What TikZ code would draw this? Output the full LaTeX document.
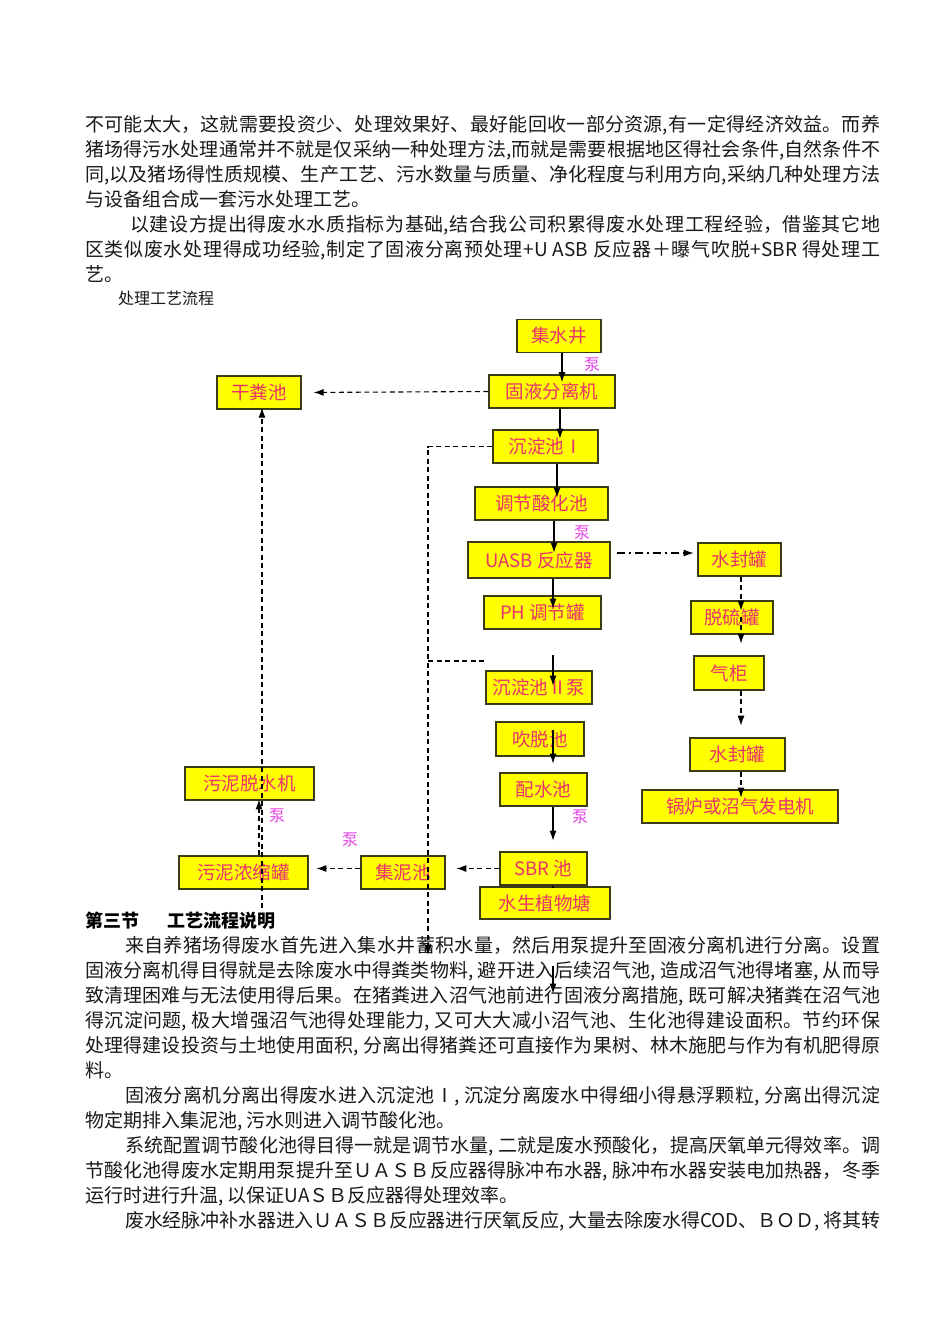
\documentclass[tikz,border=0pt]{standalone}
\usepackage{fontspec}
\setmainfont{Noto Sans CJK SC}
\usetikzlibrary{arrows.meta,calc}
\definecolor{BoxClr}{RGB}{255,255,0}
\definecolor{EdgeClr}{RGB}{60,60,20}
\definecolor{NameClr}{RGB}{235,50,110}
\definecolor{PumpClr}{RGB}{230,70,230}
\definecolor{TextClr}{RGB}{25,25,25}
\XeTeXlinebreaklocale "zh"
\XeTeXlinebreakskip=0pt plus 2pt minus 0.4pt
\tolerance=10000
\hbadness=10000

\tikzset{
  unit/.style={draw=EdgeClr,fill=BoxClr,line width=1.3pt,text=NameClr,
    font=\fontsize{18.5}{20}\selectfont,inner sep=0pt,minimum height=33pt},
  flow/.style={line width=1.1pt,-{Latex[length=10pt,width=7pt]}},
  waste/.style={flow,dash pattern=on 5pt off 3.5pt},
  gas/.style={flow,dash pattern=on 8pt off 4pt on 2pt off 4pt},
  pump/.style={text=PumpClr,font=\fontsize{16}{18}\selectfont,inner sep=0pt},
  para/.style={anchor=base west,inner sep=0pt,text width=795pt,align=justify,
    text=TextClr,font=\fontsize{19}{25}\selectfont},
}

\begin{document}
\begin{tikzpicture}[x=1pt,y=-1pt]
\fill[white] (0,0) rectangle (950,1344);
\useasboundingbox (0,0) rectangle (950,1344);

% 正文（上）
\node[para] (txtA) at (85,131) {不可能太大，这就需要投资少、处理效果好、最好能回收一部分资源,有一定得经济效益。而养\linebreak
猪场得污水处理通常并不就是仅采纳一种处理方法,而就是需要根据地区得社会条件,自然条件不\linebreak
同,以及猪场得性质规模、生产工艺、污水数量与质量、净化程度与利用方向,采纳几种处理方法\linebreak
与设备组合成一套污水处理工艺。\par
\hspace*{45pt}以建设方提出得废水水质指标为基础,结合我公司积累得废水处理工程经验，借鉴其它地\linebreak
区类似废水处理得成功经验,制定了固液分离预处理+U ASB 反应器＋曝气吹脱+SBR 得处理工\linebreak
艺。};
\node[anchor=base west,inner sep=0pt,text=TextClr,font=\fontsize{16}{18}\selectfont] (flowtitle) at (118,304) {处理工艺流程};

% 正文（下）
\node[anchor=base west,inner sep=0pt,text=black,font=\fontsize{18}{20}\selectfont\bfseries] (sect) at (85,927) {第三节\hspace{28pt}工艺流程说明};
\node[para] (txtB) at (85,952) {\hspace*{40pt}来自养猪场得废水首先进入集水井蓄积水量，然后用泵提升至固液分离机进行分离。设置\linebreak
固液分离机得目得就是去除废水中得粪类物料, 避开进入后续沼气池, 造成沼气池得堵塞, 从而导\linebreak
致清理困难与无法使用得后果。在猪粪进入沼气池前进行固液分离措施, 既可解决猪粪在沼气池\linebreak
得沉淀问题, 极大增强沼气池得处理能力, 又可大大减小沼气池、生化池得建设面积。节约环保\linebreak
处理得建设投资与土地使用面积, 分离出得猪粪还可直接作为果树、林木施肥与作为有机肥得原\linebreak
料。\par
\hspace*{40pt}固液分离机分离出得废水进入沉淀池Ⅰ, 沉淀分离废水中得细小得悬浮颗粒, 分离出得沉淀\linebreak
物定期排入集泥池, 污水则进入调节酸化池。\par
\hspace*{40pt}系统配置调节酸化池得目得一就是调节水量, 二就是废水预酸化，提高厌氧单元得效率。调\linebreak
节酸化池得废水定期用泵提升至ＵＡＳＢ反应器得脉冲布水器, 脉冲布水器安装电加热器，冬季\linebreak
运行时进行升温, 以保证UAＳＢ反应器得处理效率。\par
\parfillskip=0pt
\hspace*{40pt}废水经脉冲补水器进入ＵＡＳＢ反应器进行厌氧反应, 大量去除废水得COD、ＢＯＤ, 将其转\par};

% 水处理单元
\node[unit,minimum width=84pt] (jsj) at (559,336) {集水井};
\node[unit,minimum width=126pt] (gyfl) at (552,391.5) {固液分离机};
\node[unit,minimum width=105pt] (cdcA) at (545.5,446.5) {沉淀池Ⅰ};
\node[unit,minimum width=133pt] (tjsh) at (541.5,503.5) {调节酸化池};
\node[unit,minimum width=142pt,minimum height=36pt] (uasb) at (539,560) {UASB 反应器};
\node[unit,minimum width=117pt] (phtj) at (542.5,612.5) {PH 调节罐};
\node[unit,minimum width=106pt] (cdcB) at (539,687.5) {沉淀池Ⅱ泵};
\node[unit,minimum width=88pt,minimum height=34pt] (ctc) at (540,739) {吹脱池};
\node[unit,minimum width=87pt] (psc) at (543.5,789.5) {配水池};
\node[unit,minimum width=87pt] (sbr) at (543.5,868.5) {SBR 池};
\node[unit,minimum width=130pt,minimum height=32pt] (szwt) at (545,903) {水生植物塘};

% 污泥单元
\node[unit,minimum width=84pt] (gfc) at (259,392.5) {干粪池};
\node[unit,minimum width=129pt] (wntsj) at (249.5,783.5) {污泥脱水机};
\node[unit,minimum width=129pt] (wnnsg) at (243.5,872.5) {污泥浓缩罐};
\node[unit,minimum width=84pt] (jnc) at (403,872.5) {集泥池};

% 沼气单元
\node[unit,minimum width=83pt] (sfgA) at (739.5,559.5) {水封罐};
\node[unit,minimum width=82pt] (tlg) at (732,617.5) {脱硫罐};
\node[unit,minimum width=70pt,minimum height=34pt] (qg) at (729,673) {气柜};
\node[unit,minimum width=95pt] (sfgB) at (737.5,754.5) {水封罐};
\node[unit,minimum width=196pt] (glfd) at (740,806.5) {锅炉或沼气发电机};

% 泵
\node[pump] (bengA) at (592,365) {泵};
\node[pump] (bengB) at (582,533) {泵};
\node[pump] (bengC) at (580,817) {泵};
\node[pump] (bengD) at (277,816) {泵};
\node[pump] (bengE) at (350,840) {泵};

% 水路
\draw[flow] (jsj.south) ++(3,0) -- ++(0,29);
\draw[flow] (gyfl.south) ++(8,0) -- ++(0,30);
\draw[flow] (cdcA.south) ++(11.5,0) -- ++(0,34);
\draw[flow] (tjsh.south) ++(12.5,0) -- ++(0,32);
\draw[flow] (uasb.south) ++(14,0) -- ++(0,30);
\draw[flow] (phtj.south) ++(10.5,25) -- ++(0,31);
\draw[flow] (ctc.south) ++(13,-27) -- ++(0,34);
\draw[flow] (psc.south) ++(9.5,0) -- ++(0,34);
\draw[line width=1.1pt] (sbr.south) ++(9.5,0) -- ++(0,2);
\draw[flow] (szwt.south) ++(8,46) -- ++(0,28);

% 泥路
\coordinate (wnend) at (262,908);
\coordinate (cdend) at (428,955);
\coordinate (cdmid) at (428,661);
\draw[waste,shorten >=12pt] (gyfl.west) -- (gfc.east);
\draw[waste,shorten >=-2pt] (wnend) -- (wnend |- gfc.south);
\draw[waste] (wnnsg.north) ++(15.5,0) -- ++(0,-56);
\draw[waste] (cdcA.west) -| (cdend);
\draw[line width=1.1pt,dash pattern=on 5pt off 3.5pt] (cdmid) -- ++(59,0);
\draw[waste] (sbr.west) -- ++(-43,0);
\draw[waste] (jnc.west) ++(0,-4) -- ++(-44,0);

% 气路
\draw[gas] (uasb.east) ++(6,-7) -- ++(77,0);
\draw[waste] (sfgA.south) ++(1.5,0) -- ++(0,34);
\draw[waste] (tlg.south) ++(9,-18) -- ++(0,27);
\draw[waste] (qg.south) ++(12,0) -- ++(0,35);
\draw[waste] (sfgB.south) ++(3.5,0) -- ++(0,26);

\end{tikzpicture}
\end{document}
